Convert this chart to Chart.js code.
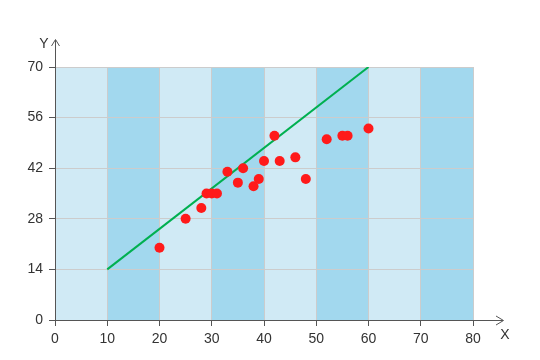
<!DOCTYPE html>
<html>
<head>
<meta charset="utf-8">
<script src="https://cdn.jsdelivr.net/npm/chart.js@4"></script>
<style>
  html, body { margin: 0; padding: 0; background: #fff; }
  #wrap { width: 540px; height: 360px; }
</style>
</head>
<body>
<div id="wrap"><canvas id="scatterChart"></canvas></div>
<script>
// scatter points
const xValues = [20, 25, 28, 29, 30, 31, 33, 35, 36, 38, 39, 40, 42, 43, 46, 48, 52, 55, 56, 60];
const yValues = [20, 28, 31, 35, 35, 35, 41, 38, 42, 37, 39, 44, 51, 44, 45, 39, 50, 51, 51, 53];
// trend line end points
const lineX = [10, 60];
const lineY = [14, 70];
// axis ticks
const xTicks = [0, 10, 20, 30, 40, 50, 60, 70, 80];
const yTicks = [0, 14, 28, 42, 56, 70];

const FONT = '"Liberation Sans Narrow", "Liberation Sans", Arial, sans-serif';
const TEXT = '#333';
const AXIS = '#555';

const bandPlugin = {
    id: 'bands',
    beforeDraw(chart) {
        const {ctx, chartArea, scales} = chart;
        ctx.save();
        for (let i = 0; i < xTicks.length - 1; i++) {
            const x0 = scales.x.getPixelForValue(xTicks[i]);
            const x1 = scales.x.getPixelForValue(xTicks[i + 1]);
            ctx.fillStyle = i % 2 === 0 ? '#d0eaf5' : '#a2d8ee';
            ctx.fillRect(x0, chartArea.top, x1 - x0, chartArea.bottom - chartArea.top);
        }
        ctx.restore();
    }
};

const arrowPlugin = {
    id: 'arrows',
    afterDraw(chart) {
        const {ctx, chartArea} = chart;
        const left = Math.round(chartArea.left) + 0.5;
        const bottom = Math.round(chartArea.bottom) + 0.5;
        ctx.save();
        ctx.strokeStyle = AXIS;
        ctx.lineWidth = 1;
        ctx.beginPath();
        // y axis extension + arrow
        ctx.moveTo(left, chartArea.top);
        ctx.lineTo(left, 40);
        ctx.moveTo(left - 4, 46);
        ctx.lineTo(left, 39.5);
        ctx.lineTo(left + 4, 46);
        // x axis extension + arrow
        ctx.moveTo(chartArea.right, bottom);
        ctx.lineTo(503, bottom);
        ctx.moveTo(496, bottom - 4.5);
        ctx.lineTo(503.5, bottom);
        ctx.lineTo(496, bottom + 4.5);
        ctx.stroke();
        ctx.fillStyle = TEXT;
        ctx.font = '14px ' + FONT;
        ctx.textAlign = 'center';
        ctx.textBaseline = 'middle';
        ctx.fillText('Y', 44, 44);
        ctx.fillText('X', 505, 335);
        ctx.restore();
    }
};

const ctx1 = document.getElementById('scatterChart').getContext('2d');
const scatterChart = new Chart(ctx1, {
    type: 'scatter',
    data: {
        datasets: [{
            type: 'line',
            data: lineX.map((x, i) => ({x: x, y: lineY[i]})),
            borderColor: '#00b050',
            borderWidth: 2,
            pointRadius: 0,
            fill: false,
            order: 2
        }, {
            data: xValues.map((x, i) => ({x: x, y: yValues[i]})),
            backgroundColor: '#ff1a1a',
            borderWidth: 0,
            pointRadius: 5,
            order: 1
        }]
    },
    options: {
        responsive: true,
        maintainAspectRatio: false,
        animation: false,
        layout: {padding: {left: 0, top: 67, right: 67, bottom: 0}},
        plugins: {
            legend: {display: false},
            tooltip: {enabled: false}
        },
        scales: {
            x: {
                type: 'linear',
                min: 0, max: 80,
                afterFit: s => { s.height = 40; },
                afterBuildTicks: s => { s.ticks = xTicks.map(v => ({value: v})); },
                grid: {color: '#cccccc', tickColor: AXIS, tickLength: 6},
                border: {display: true, color: AXIS},
                ticks: {color: TEXT, padding: 5, maxRotation: 0, font: {family: FONT, size: 14}}
            },
            y: {
                min: 0, max: 70,
                afterFit: s => { s.width = 55; },
                afterBuildTicks: s => { s.ticks = yTicks.map(v => ({value: v})); },
                grid: {color: '#cccccc', tickColor: AXIS, tickLength: 6},
                border: {display: true, color: AXIS},
                ticks: {color: TEXT, padding: 6, font: {family: FONT, size: 14}}
            }
        }
    },
    plugins: [bandPlugin, arrowPlugin]
});
</script>
</body>
</html>
